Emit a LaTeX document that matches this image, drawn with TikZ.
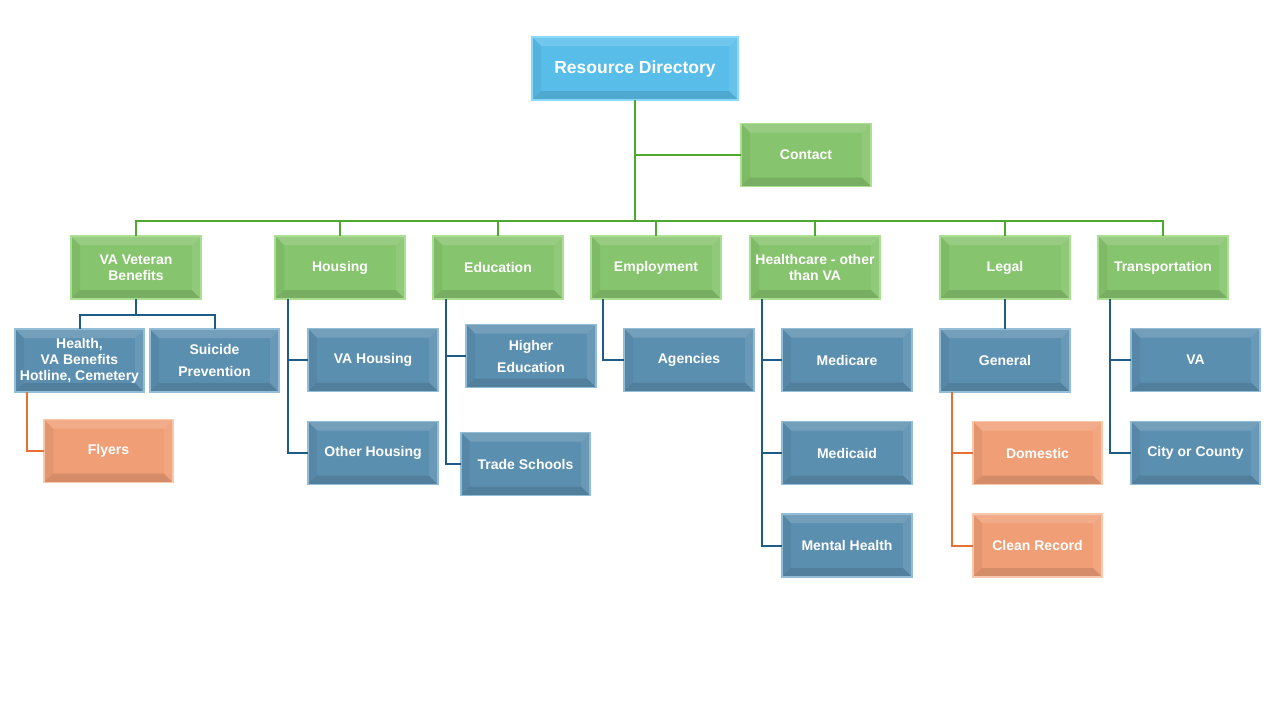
\documentclass[tikz,border=0pt]{standalone}
\usepackage{fontspec}
\setmainfont{Liberation Sans}
\usetikzlibrary{calc}
\definecolor{rootfill}{HTML}{58BDE9}
\definecolor{rootborder}{HTML}{8BD9FA}
\definecolor{grnfill}{HTML}{86C46D}
\definecolor{grnborder}{HTML}{AADF94}
\definecolor{blufill}{HTML}{5B8FB0}
\definecolor{bluborder}{HTML}{93BCD6}
\definecolor{orgfill}{HTML}{F09E75}
\definecolor{orgborder}{HTML}{F9C8AC}
\definecolor{grnline}{HTML}{4EA72E}
\definecolor{bluline}{HTML}{1E5B87}
\definecolor{orgline}{HTML}{E86F33}
\tikzset{
  bevel/.style={path picture={
    \def\pb{path picture bounding box}
    \fill[white,opacity=.15] (\pb.north west) -- (\pb.north east) -- ([shift={(-9pt,-9pt)}]\pb.north east) -- ([shift={(9pt,-9pt)}]\pb.north west) -- cycle;
    \fill[black,opacity=.05] (\pb.north west) -- (\pb.south west) -- ([shift={(9pt,9pt)}]\pb.south west) -- ([shift={(9pt,-9pt)}]\pb.north west) -- cycle;
    \fill[black,opacity=.11] (\pb.south west) -- (\pb.south east) -- ([shift={(-9pt,9pt)}]\pb.south east) -- ([shift={(9pt,9pt)}]\pb.south west) -- cycle;
    \fill[white,opacity=.09] (\pb.north east) -- (\pb.south east) -- ([shift={(-9pt,9pt)}]\pb.south east) -- ([shift={(-9pt,-9pt)}]\pb.north east) -- cycle;
  }},
  boxbase/.style={rectangle, bevel, line width=1.3pt, inner sep=0pt, outer sep=0pt,
    minimum width=130pt, minimum height=63pt, text=white, align=center,
    font=\bfseries\fontsize{14}{16}\selectfont},
  rootbox/.style={boxbase, fill=rootfill, draw=rootborder, minimum width=206pt,
    font=\bfseries\fontsize{17.5}{20}\selectfont},
  grnbox/.style={boxbase, fill=grnfill, draw=grnborder},
  blubox/.style={boxbase, fill=blufill, draw=bluborder},
  orgbox/.style={boxbase, fill=orgfill, draw=orgborder},
  gline/.style={draw=grnline, line width=2pt},
  bline/.style={draw=bluline, line width=2pt},
  oline/.style={draw=orgline, line width=2pt},
}
\begin{document}
\begin{tikzpicture}[x=1pt,y=-1pt]
\path[use as bounding box, fill=white] (0,0) rectangle (1280,720);
% nodes
\node[rootbox] (root) at (635,68.5) {Resource Directory};
\node[grnbox] (contact) at (806,155) {Contact};
\node[grnbox] (vavb) at (136,267.5) {VA Veteran\\Benefits};
\node[grnbox] (housing) at (340,267.5) {Housing};
\node[grnbox] (educ) at (498,267.5) {Education};
\node[grnbox] (employ) at (656,267.5) {Employment};
\node[grnbox] (health) at (815,267.5) {Healthcare - other\\than VA};
\node[grnbox] (legal) at (1005,267.5) {Legal};
\node[grnbox] (trans) at (1163,267.5) {Transportation};
\node[blubox, minimum width=129pt] (hva) at (79.5,360.5) {Health,\\VA Benefits\\Hotline, Cemetery};
\node[blubox, minimum width=129pt, font=\bfseries\fontsize{14}{22}\selectfont] (suicide) at (214.5,360.5) {Suicide\\Prevention};
\node[orgbox, minimum width=129pt] (flyers) at (108.5,451) {Flyers};
\node[blubox] (vahousing) at (373,360) {VA Housing};
\node[blubox] (othhousing) at (373,453) {Other Housing};
\node[blubox, font=\bfseries\fontsize{14}{22}\selectfont] (higher) at (531,356) {Higher\\Education};
\node[blubox, minimum width=129pt] (trade) at (525.5,464) {Trade Schools};
\node[blubox] (agencies) at (689,360) {Agencies};
\node[blubox] (medicare) at (847,360) {Medicare};
\node[blubox] (medicaid) at (847,453) {Medicaid};
\node[blubox] (mental) at (847,545.5) {Mental Health};
\node[blubox] (general) at (1005,360.5) {General};
\node[orgbox, minimum width=129pt] (domestic) at (1037.5,453) {Domestic};
\node[orgbox, minimum width=129pt] (clean) at (1037.5,545.5) {Clean Record};
\node[blubox, minimum width=129pt] (va) at (1195.5,360) {VA};
\node[blubox, minimum width=129pt] (city) at (1195.5,453) {City or County};
\coordinate (bus) at (635,221);
\coordinate (vbus) at (136,315);
% connectors
\draw[gline] (root.south) -- (root.south |- bus);
\draw[gline] (root.south |- contact.west) -- (contact.west);
\draw[gline] (vavb.north) -- (vavb.north |- bus) -- (trans.north |- bus) -- (trans.north);
\foreach \n in {housing,educ,employ,health,legal}
  \draw[gline] (\n.north) -- (\n.north |- bus);
\draw[bline] (vavb.south) -- (vavb.south |- vbus);
\draw[bline] (hva.north) |- (vbus) -| (suicide.north);
\draw[oline] ([xshift=12pt]hva.south west) |- (flyers.west);
\draw[bline] ([xshift=13pt]housing.south west) |- (vahousing.west);
\draw[bline] ([xshift=13pt]housing.south west) |- (othhousing.west);
\draw[bline] ([xshift=13pt]educ.south west) |- (higher.west);
\draw[bline] ([xshift=13pt]educ.south west) |- (trade.west);
\draw[bline] ([xshift=12pt]employ.south west) |- (agencies.west);
\draw[bline] ([xshift=12pt]health.south west) |- (medicare.west);
\draw[bline] ([xshift=12pt]health.south west) |- (medicaid.west);
\draw[bline] ([xshift=12pt]health.south west) |- (mental.west);
\draw[bline] (legal.south) -- (general.north);
\draw[oline] ([xshift=12pt]general.south west) |- (domestic.west);
\draw[oline] ([xshift=12pt]general.south west) |- (clean.west);
\draw[bline] ([xshift=12pt]trans.south west) |- (va.west);
\draw[bline] ([xshift=12pt]trans.south west) |- (city.west);
\end{tikzpicture}
\end{document}
